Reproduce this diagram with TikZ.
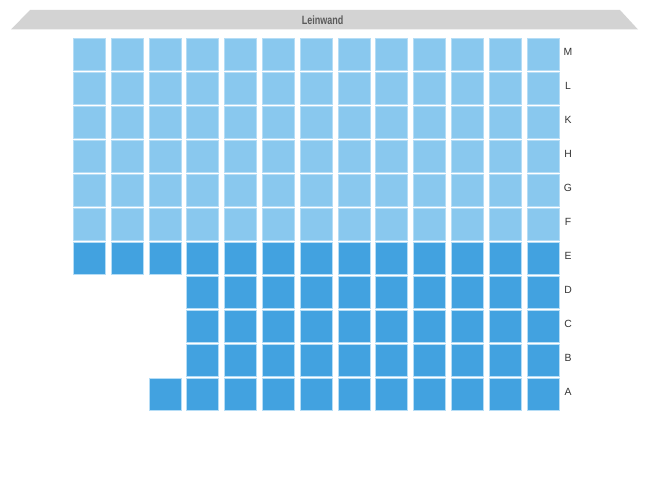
\documentclass[tikz,border=0pt]{standalone}
\usepackage{fontspec}
\setmainfont{Liberation Sans}
\definecolor{seatlight}{HTML}{89C8EE}
\definecolor{seatdark}{HTML}{42A2E0}
\definecolor{seatedge}{HTML}{B5DDF6}
\definecolor{screenfill}{HTML}{D3D3D3}
\definecolor{screentext}{HTML}{5A5A5A}
\definecolor{labeltext}{HTML}{333333}
\begin{document}
\begin{tikzpicture}[x=1pt,y=-1pt,
  seat/.style={draw=seatedge,line width=0.6pt,minimum width=32pt,minimum height=31.4pt,inner sep=0pt,outer sep=0pt},
  free/.style={seat,fill=seatlight},
  taken/.style={seat,fill=seatdark},
  rowlabel/.style={font=\fontsize{10.4}{11}\selectfont,text=labeltext,inner sep=0pt}]
\useasboundingbox (0,0) rectangle (650,500);
% screen
\fill[screenfill] (30,10) -- (620,10) -- (638,29.5) -- (11,29.5) -- cycle;
\node[font=\fontsize{12}{13}\selectfont\bfseries,text=screentext,inner sep=0pt,xscale=0.75] (screen) at (322.5,20.5) {Leinwand};
% rows: index 0..10 = M L K H G F E D C B A
\foreach \lab [count=\j from 0] in {M,L,K,H,G,F} {
  \foreach \i in {0,...,12} {
    \node[free] (s-\j-\i) at ({73+16.3+37.8*\i},{38.3+16+34*\j}) {};
  }
  \node[rowlabel] (r-\j) at (568,{38.3+14+34*\j}) {\lab};
}
\foreach \i in {0,...,12} {
  \node[taken] (s-6-\i) at ({73+16.3+37.8*\i},{38.3+16+34*6}) {};
}
\node[rowlabel] (r-6) at (568,{38.3+14+34*6}) {E};
\foreach \lab [count=\j from 7] in {D,C,B} {
  \foreach \i in {3,...,12} {
    \node[taken] (s-\j-\i) at ({73+16.3+37.8*\i},{38.3+16+34*\j}) {};
  }
  \node[rowlabel] (r-\j) at (568,{38.3+14+34*\j}) {\lab};
}
\foreach \i in {2,...,12} {
  \node[taken] (s-10-\i) at ({73+16.3+37.8*\i},{38.3+16+34*10}) {};
}
\node[rowlabel] (r-10) at (568,{38.3+14+34*10}) {A};
\end{tikzpicture}
\end{document}
